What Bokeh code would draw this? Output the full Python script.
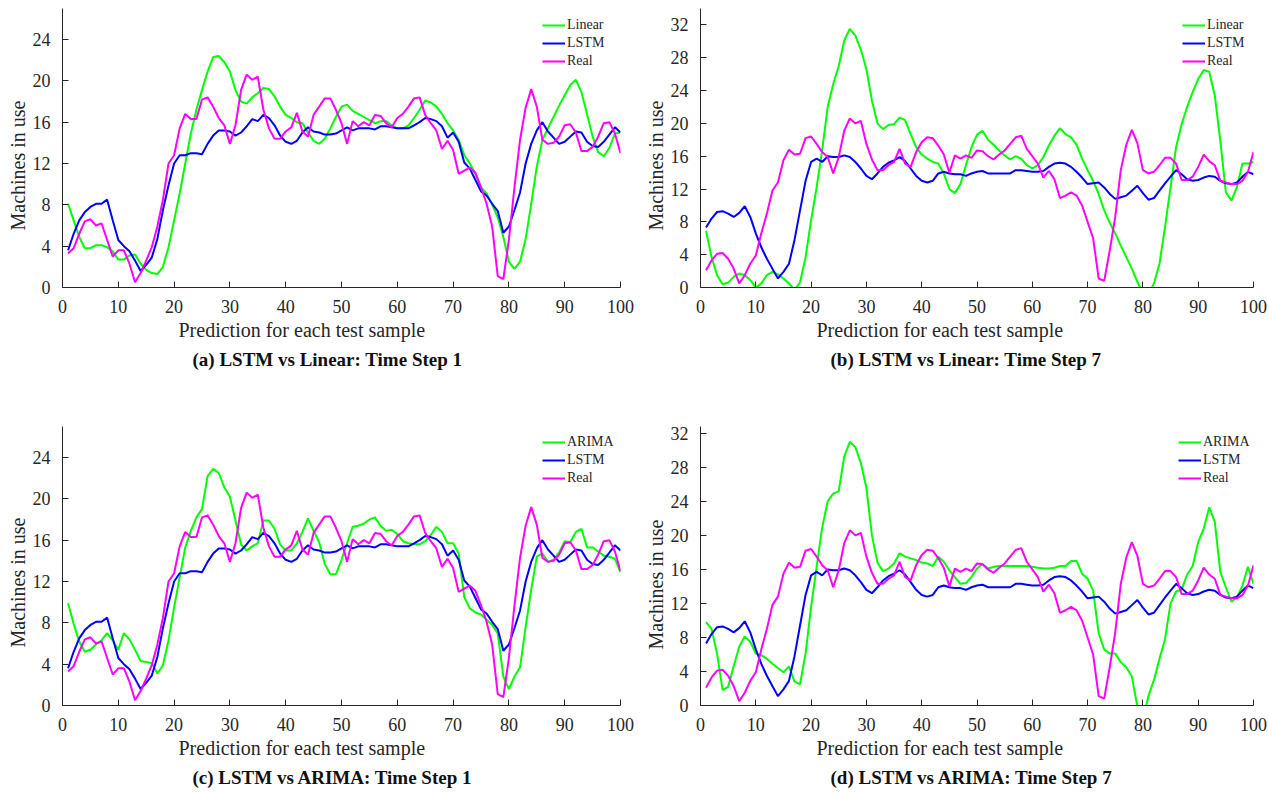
from bokeh.plotting import figure
from bokeh.models import Range1d, Title, Legend, LegendItem, FixedTicker
from bokeh.layouts import column, row
from bokeh.embed import file_html
from bokeh.resources import INLINE

x = list(range(1, 101))

real1 = [3.3, 3.8, 5.2, 6.4, 6.6, 6.0, 6.2, 4.6, 3.0, 3.6,
         3.6, 2.3, 0.5, 1.4, 2.6, 3.9, 5.9, 8.5, 12.0, 12.8,
         15.4, 16.8, 16.3, 16.3, 18.2, 18.4, 17.5, 16.4, 15.7, 13.9,
         15.7, 19.1, 20.6, 20.1, 20.4, 17.2, 15.4, 14.4, 14.4, 15.1,
         15.5, 16.9, 15.1, 14.6, 16.7, 17.5, 18.3, 18.3, 17.2, 15.9,
         13.9, 16.1, 15.6, 16.0, 15.7, 16.7, 16.6, 15.9, 15.5, 16.4,
         16.8, 17.5, 18.3, 18.4, 16.7, 15.9, 15.2, 13.4, 14.2, 13.3,
         11.0, 11.3, 11.6, 11.1, 9.7, 8.1, 5.9, 1.1, 0.8, 4.6,
         9.7, 14.3, 17.4, 19.2, 17.5, 14.3, 13.9, 14.0, 14.6, 15.7,
         15.8, 15.0, 13.2, 13.2, 13.6, 14.6, 15.9, 16.0, 14.9, 13.0]

lstm1 = [3.6, 5.2, 6.5, 7.3, 7.8, 8.1, 8.1, 8.5, 6.5, 4.6,
         4.0, 3.5, 2.6, 1.6, 2.2, 2.9, 4.7, 7.5, 9.9, 12.0,
         12.8, 12.8, 13.0, 13.0, 12.9, 13.9, 14.7, 15.2, 15.2, 15.1,
         14.7, 15.0, 15.6, 16.3, 16.1, 16.7, 16.4, 15.7, 14.7, 14.1,
         13.9, 14.2, 15.0, 15.5, 15.1, 15.0, 14.8, 14.8, 14.9, 15.2,
         15.5, 15.2, 15.4, 15.4, 15.4, 15.3, 15.6, 15.6, 15.5, 15.4,
         15.4, 15.4, 15.7, 16.0, 16.4, 16.3, 16.1, 15.6, 14.5, 15.0,
         14.1, 12.1, 11.5, 10.4, 9.3, 8.9, 8.1, 7.4, 5.3, 5.9,
         7.5, 9.2, 12.0, 13.9, 15.2, 16.0, 15.1, 14.5, 13.9, 14.1,
         14.6, 15.1, 15.0, 14.1, 13.7, 13.6, 14.1, 14.8, 15.5, 15.0]

linear1 = [8.1, 6.5, 4.9, 3.8, 3.8, 4.1, 4.1, 3.9, 3.5, 2.7,
           2.7, 3.1, 3.2, 2.3, 1.7, 1.4, 1.3, 2.0, 3.9, 6.5,
           9.1, 12.0, 14.9, 17.2, 19.1, 20.9, 22.3, 22.4, 21.8, 20.9,
           19.1, 18.0, 17.8, 18.4, 18.8, 19.3, 19.2, 18.5, 17.5, 16.7,
           16.4, 16.0, 15.9, 15.0, 14.2, 13.9, 14.4, 15.4, 16.5, 17.5,
           17.7, 17.1, 16.8, 16.5, 16.2, 15.9, 16.1, 16.1, 15.7, 15.4,
           15.4, 15.7, 16.4, 17.2, 18.1, 17.9, 17.5, 16.8, 15.9, 15.2,
           14.3, 12.8, 12.0, 11.0, 9.7, 9.1, 8.0, 6.8, 4.9, 2.5,
           1.8, 2.5, 4.7, 8.1, 11.7, 14.3, 15.4, 16.5, 17.6, 18.6,
           19.6, 20.1, 18.9, 16.8, 14.6, 13.1, 12.7, 13.5, 14.9, 15.0]

arima1 = [9.9, 7.9, 6.2, 5.2, 5.4, 5.9, 6.3, 7.0, 6.3, 5.4,
          7.0, 6.4, 5.4, 4.3, 4.2, 4.1, 3.1, 3.9, 6.3, 9.5,
          12.4, 15.3, 16.9, 18.2, 19.0, 22.2, 22.9, 22.5, 21.1, 20.2,
          17.9, 15.6, 15.0, 15.4, 15.7, 17.9, 17.9, 17.1, 15.6, 15.0,
          15.0, 15.7, 16.8, 18.1, 16.9, 15.8, 13.7, 12.7, 12.7, 14.1,
          15.7, 17.3, 17.4, 17.6, 18.0, 18.2, 17.4, 16.9, 17.0, 16.6,
          15.9, 15.7, 15.6, 15.6, 15.9, 16.5, 17.3, 16.8, 15.7, 15.7,
          14.7, 10.5, 9.4, 9.0, 8.8, 8.3, 7.8, 7.0, 2.8, 1.6,
          2.8, 3.7, 7.6, 11.2, 14.4, 14.7, 13.9, 14.1, 14.8, 15.9,
          15.8, 16.8, 17.1, 15.3, 15.3, 14.9, 14.5, 14.4, 14.2, 12.9]

real7 = [2.1, 3.3, 4.1, 4.2, 3.5, 2.3, 0.5, 1.5, 2.9, 3.9,
         6.6, 9.0, 11.8, 12.8, 15.5, 16.8, 16.2, 16.3, 18.2, 18.4,
         17.5, 16.5, 15.9, 13.9, 15.9, 19.1, 20.6, 20.0, 20.3, 17.5,
         15.6, 14.3, 14.3, 14.9, 15.3, 16.9, 15.1, 14.7, 16.5, 17.7,
         18.3, 18.2, 17.3, 16.2, 14.0, 16.1, 15.7, 16.1, 15.8, 16.7,
         16.6, 16.0, 15.6, 16.2, 16.7, 17.5, 18.3, 18.5, 16.9, 16.0,
         15.1, 13.4, 14.2, 13.2, 10.9, 11.2, 11.6, 11.2, 10.0, 8.0,
         6.0, 1.1, 0.8, 4.5, 8.6, 14.3, 17.4, 19.2, 17.6, 14.3,
         13.9, 14.1, 14.9, 15.8, 15.8, 15.1, 13.1, 13.1, 13.5, 14.7,
         16.2, 15.4, 14.9, 13.0, 12.8, 12.6, 12.6, 13.0, 14.1, 16.5]

lstm7 = [7.3, 8.4, 9.2, 9.3, 9.0, 8.6, 9.1, 9.9, 8.6, 6.6,
         4.9, 3.5, 2.3, 1.1, 1.9, 2.9, 5.8, 9.4, 13.0, 15.3,
         15.7, 15.3, 16.0, 15.9, 15.9, 16.1, 15.9, 15.3, 14.5, 13.6,
         13.2, 13.9, 14.7, 15.2, 15.5, 15.9, 15.4, 14.5, 13.6, 13.0,
         12.8, 13.0, 13.9, 14.1, 13.9, 13.8, 13.8, 13.6, 13.9, 14.1,
         14.2, 13.9, 13.9, 13.9, 13.9, 13.9, 14.3, 14.3, 14.2, 14.1,
         14.1, 14.2, 14.7, 15.1, 15.2, 15.1, 14.7, 14.1, 13.4, 12.6,
         12.7, 12.8, 12.2, 11.4, 10.8, 11.0, 11.2, 11.8, 12.4, 11.5,
         10.7, 10.9, 11.8, 12.7, 13.5, 14.3, 13.8, 13.2, 13.0, 13.1,
         13.4, 13.6, 13.5, 13.0, 12.7, 12.6, 12.8, 13.5, 14.1, 13.8]

linear7 = [6.9, 3.7, 1.5, 0.4, 0.6, 1.3, 1.7, 1.5, 0.9, 0.0,
           0.5, 1.5, 1.9, 1.6, 1.1, 0.5, -0.3, 0.6, 3.7, 8.2,
           12.2, 16.7, 22.0, 24.8, 27.0, 30.1, 31.5, 30.7, 29.0, 26.6,
           22.8, 20.0, 19.3, 19.8, 19.9, 20.7, 20.4, 18.7, 17.1, 16.2,
           15.7, 15.3, 15.1, 13.9, 12.0, 11.5, 12.6, 14.9, 17.1, 18.6,
           19.1, 18.0, 17.4, 16.7, 16.1, 15.6, 16.0, 15.7, 14.9, 14.5,
           14.9, 15.9, 17.3, 18.5, 19.4, 18.7, 18.3, 17.4, 15.7, 14.3,
           13.0, 11.4, 9.4, 7.9, 6.6, 5.1, 3.7, 2.3, 0.7, -0.7,
           -0.9, 0.5, 2.9, 7.4, 12.2, 17.1, 19.9, 22.0, 23.8, 25.4,
           26.5, 26.3, 23.4, 17.9, 11.6, 10.6, 12.2, 15.1, 15.1, 15.3]

arima7 = [9.8, 9.0, 6.1, 1.8, 2.2, 4.6, 6.9, 8.1, 7.5, 6.1,
          5.9, 5.5, 4.9, 4.4, 3.9, 4.6, 2.8, 2.5, 6.1, 11.6,
          16.3, 20.9, 24.0, 24.9, 25.2, 29.3, 31.0, 30.4, 28.5, 25.6,
          20.0, 16.8, 15.8, 16.1, 16.7, 17.9, 17.5, 17.3, 17.1, 16.8,
          16.7, 16.4, 17.5, 16.9, 15.9, 15.1, 14.3, 14.4, 15.1, 16.1,
          16.6, 16.1, 16.3, 16.4, 16.4, 16.4, 16.4, 16.4, 16.4, 16.3,
          16.2, 16.1, 16.1, 16.2, 16.4, 16.4, 17.0, 17.0, 15.5, 14.9,
          13.5, 8.5, 6.6, 6.1, 6.1, 5.1, 4.5, 3.4, -0.1, -1.7,
          1.1, 3.0, 5.5, 7.8, 12.0, 13.4, 13.6, 15.4, 16.4, 19.2,
          20.8, 23.3, 21.6, 15.7, 13.9, 12.2, 12.7, 14.1, 16.3, 14.3]

x_ticks = list(range(0, 101, 10))
y_ticks_small = [0, 4, 8, 12, 16, 20, 24]
y_ticks_big = [0, 4, 8, 12, 16, 20, 24, 28, 32]

captions = ["(a) LSTM vs Linear: Time Step 1", "(b) LSTM vs Linear: Time Step 7",
            "(c) LSTM vs ARIMA: Time Step 1", "(d) LSTM vs ARIMA: Time Step 7"]

FONT = "Liberation Serif"
TXT = "#262626"
GREEN = "#00FF00"
BLUE = "#0000FF"
MAGENTA = "#FF00FF"


def make_panel(width, height, ml, mr, mt, mb, ymax, yticks, other, other_name, lstm, real,
               caption, lab_off, cap_off, ylab_off, leg_x, leg_y):
    p = figure(width=width, height=height, x_range=Range1d(0, 100), y_range=Range1d(0, ymax),
               output_backend="svg", toolbar_location=None,
               min_border_left=ml, min_border_right=mr, min_border_top=mt, min_border_bottom=mb)
    p.outline_line_color = None
    p.grid.visible = False
    p.background_fill_color = "white"
    p.border_fill_color = "white"
    p.xaxis.ticker = FixedTicker(ticks=x_ticks)
    p.yaxis.ticker = FixedTicker(ticks=yticks)
    for ax in (p.xaxis[0], p.yaxis[0]):
        ax.axis_line_color = TXT
        ax.axis_line_width = 1
        ax.major_tick_line_color = TXT
        ax.major_tick_in = 6
        ax.major_tick_out = 0
        ax.minor_tick_in = 0
        ax.minor_tick_out = 0
        ax.major_label_text_font = FONT
        ax.major_label_text_font_size = "18px"
        ax.major_label_text_color = TXT
    p.xaxis[0].major_label_standoff = 12
    p.yaxis[0].major_label_standoff = 12

    r1 = p.line(x, other, line_color=GREEN, line_width=2)
    r2 = p.line(x, lstm, line_color=BLUE, line_width=2)
    r3 = p.line(x, real, line_color=MAGENTA, line_width=2)

    legend = Legend(items=[LegendItem(label=other_name, renderers=[r1]),
                           LegendItem(label="LSTM", renderers=[r2]),
                           LegendItem(label="Real", renderers=[r3])],
                    location=(leg_x, leg_y), orientation="vertical",
                    background_fill_alpha=0, border_line_alpha=0,
                    padding=0, margin=0, spacing=0,
                    glyph_width=23, glyph_height=18, label_height=18,
                    label_standoff=2, label_text_font=FONT,
                    label_text_font_size="14px", label_text_color=TXT)
    p.add_layout(legend)

    ty = Title(text="Machines in use", align="left", offset=ylab_off,
               text_font=FONT, text_font_size="20px", text_font_style="normal",
               text_color=TXT, standoff=2)
    p.add_layout(ty, "left")

    t1 = Title(text="Prediction for each test sample", align="left", offset=lab_off,
               text_font=FONT, text_font_size="20px", text_font_style="normal",
               text_color=TXT, standoff=2)
    t2 = Title(text=caption, align="left", offset=cap_off,
               text_font=FONT, text_font_size="19px", text_font_style="bold",
               text_color="#111111", standoff=11)
    p.add_layout(t1, "below")
    p.add_layout(t2, "below")
    return p


pa = make_panel(641, 400, 62, 21, 8, 113, 27, y_ticks_small, linear1, "Linear", lstm1, real1,
                captions[0], 116, 130, 57, 480, 217)
pb = make_panel(627, 400, 54, 15, 8, 113, 34, y_ticks_big, linear7, "Linear", lstm7, real7,
                captions[1], 116, 130, 57, 482, 217)
pc = make_panel(641, 393, 62, 21, 26, 87, 27, y_ticks_small, arima1, "ARIMA", lstm1, real1,
                captions[2], 116, 130, 58, 480, 218)
pd = make_panel(627, 393, 54, 15, 26, 87, 32.8, y_ticks_big, arima7, "ARIMA", lstm7, real7,
                captions[3], 116, 130, 56, 478, 218)

layout = column(row(pa, pb), row(pc, pd))

open("out.html", "w").write(file_html(layout, INLINE))
